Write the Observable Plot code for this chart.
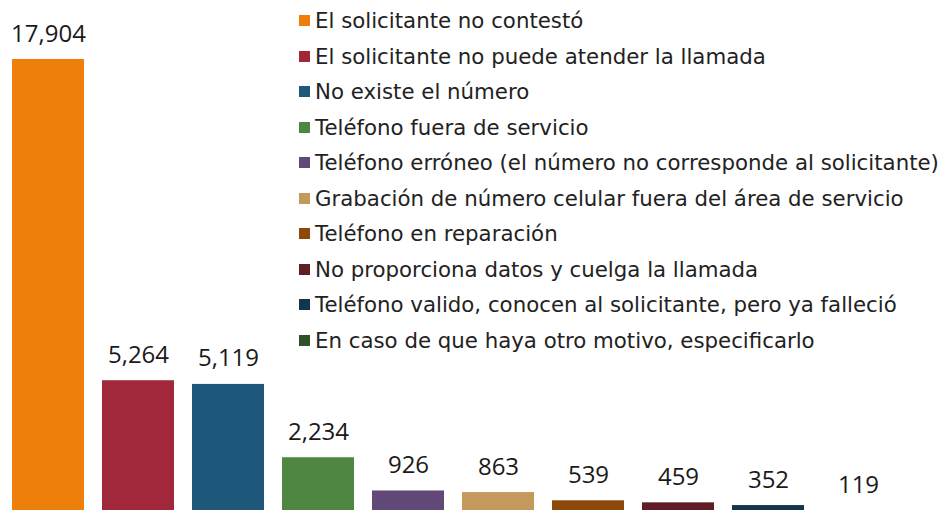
<!DOCTYPE html>
<html>
<head>
<meta charset="utf-8">
<script src="https://cdn.jsdelivr.net/npm/d3@7"></script>
<script src="https://cdn.jsdelivr.net/npm/@observablehq/plot@0.6"></script>
<style>
  html, body { margin: 0; padding: 0; background: #fff; }
  #wrap { position: relative; width: 942px; height: 510px; overflow: hidden; font-family: "DejaVu Sans", sans-serif; }
  #legend { position: absolute; left: 299px; top: 3px; }
  .item { display: flex; align-items: center; height: 35.5px; white-space: nowrap; font-size: 21.3px; color: #222; }
  .sw { width: 11px; height: 11px; margin-right: 5px; flex: none; }
</style>
</head>
<body>
<div id="wrap"></div>
<script>
const categories = [
  "El solicitante no contestó",
  "El solicitante no puede atender la llamada",
  "No existe el número",
  "Teléfono fuera de servicio",
  "Teléfono erróneo (el número no corresponde al solicitante)",
  "Grabación de número celular fuera del área de servicio",
  "Teléfono en reparación",
  "No proporciona datos y cuelga la llamada",
  "Teléfono valido, conocen al solicitante, pero ya falleció",
  "En caso de que haya otro motivo, especificarlo"
];
const values = [17904, 5264, 5119, 2234, 926, 863, 539, 459, 352, 119];
const colors = ["#EF7F0B", "#A0283A", "#1F587A", "#4E8642", "#614A78", "#C4995C", "#8C4806", "#611D25", "#14354B", "#2E5128"];

const data = categories.map((c, i) => ({category: c, value: values[i]}));

const plot = Plot.plot({
  width: 942,
  height: 510,
  marginLeft: 10,
  marginRight: 46,
  marginTop: 59,
  marginBottom: -4,
  style: {fontFamily: "'Open Sans', sans-serif", overflow: "visible"},
  x: {domain: categories, paddingInner: 0.2, paddingOuter: 0, axis: null},
  y: {domain: [0, 17904], axis: null},
  color: {domain: categories, range: colors},
  marks: [
    Plot.barY(data, {x: "category", y: "value", fill: "category"}),
    Plot.text(data, {x: "category", y: "value", text: d => d3.format(",")(d.value), lineAnchor: "bottom", dy: -18, fontSize: 24, fill: "#1a1a1a"})
  ]
});
const wrap = document.getElementById("wrap");
wrap.appendChild(plot);

const legend = document.createElement("div");
legend.id = "legend";
const colorScale = plot.scale("color");
categories.forEach(c => {
  const item = document.createElement("div");
  item.className = "item";
  const sw = document.createElement("span");
  sw.className = "sw";
  sw.style.background = colors[colorScale.domain.indexOf(c)];
  const t = document.createElement("span");
  t.textContent = c;
  item.appendChild(sw);
  item.appendChild(t);
  legend.appendChild(item);
});
wrap.appendChild(legend);
</script>
</body>
</html>
